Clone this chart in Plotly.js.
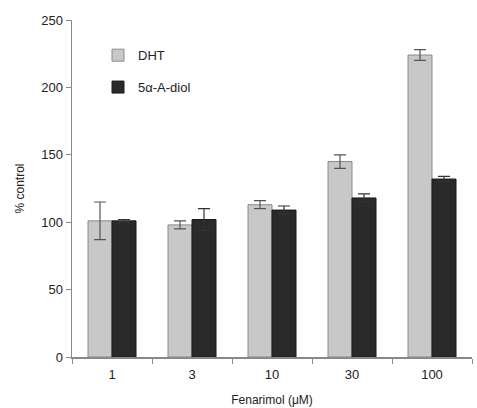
<!DOCTYPE html>
<html><head><meta charset="utf-8">
<script src="https://cdn.plot.ly/plotly-3.0.1.min.js"></script>
<style>body{margin:0;padding:0;background:#fff}#chart{width:477px;height:408px}</style>
</head><body><div id="chart"></div>
<script>
var categories = ["1", "3", "10", "30", "100"];
var dhtValues = [101, 98, 113, 145, 224];
var dhtErrors = [14, 3, 3, 5, 4];
var diolValues = [101, 102, 109, 118, 132];
var diolErrors = [1, 8, 3, 3, 2];
var seriesNames = ["DHT", "5\u03b1-A-diol"];

var traces = [
  {type:"bar", name:seriesNames[0], x:categories, y:dhtValues, legendgroup:"a",
   marker:{color:"#c8c8c8", line:{color:"#8a8a8a", width:1}},
   error_y:{type:"data", array:dhtErrors, visible:true, color:"#555", thickness:1.2, width:6}},
  {type:"bar", name:seriesNames[1], x:categories, y:diolValues, legendgroup:"b",
   marker:{color:"#2a2a2a", line:{color:"#1a1a1a", width:1}},
   error_y:{type:"data", array:diolErrors, visible:true, color:"#333", thickness:1.2, width:6}}
];

var layout = {
  width:477, height:408,
  margin:{l:72, r:5, t:20, b:51},
  paper_bgcolor:"#fff", plot_bgcolor:"#fff",
  font:{family:"Liberation Sans, Arial, sans-serif", color:"#222", size:13},
  barmode:"group", bargap:0.4, bargroupgap:0,
  showlegend:true,
  legend:{x:0.065, y:0.94, xanchor:"left", yanchor:"top", bgcolor:"rgba(0,0,0,0)",
          font:{size:13, color:"#222"}, tracegroupgap:12, itemwidth:30},
  xaxis:{type:"category", showline:true, linecolor:"#888", linewidth:1.5,
         ticks:"outside", tickson:"boundaries", ticklen:5, tickcolor:"#888",
         showgrid:false, zeroline:false, tickfont:{size:13}, ticklabelstandoff:5,
         automargin:false,
         title:{text:"Fenarimol (\u03bcM)", font:{size:12}, standoff:14}},
  yaxis:{range:[0,250], dtick:50, showline:true, linecolor:"#888", linewidth:1.5,
         ticks:"outside", ticklen:5, tickcolor:"#888", showgrid:false, zeroline:false,
         tickfont:{size:13},
         title:{text:"% control", font:{size:12}, standoff:14}}
};
Plotly.newPlot("chart", traces, layout, {displayModeBar:false, staticPlot:true});
</script></body></html>
